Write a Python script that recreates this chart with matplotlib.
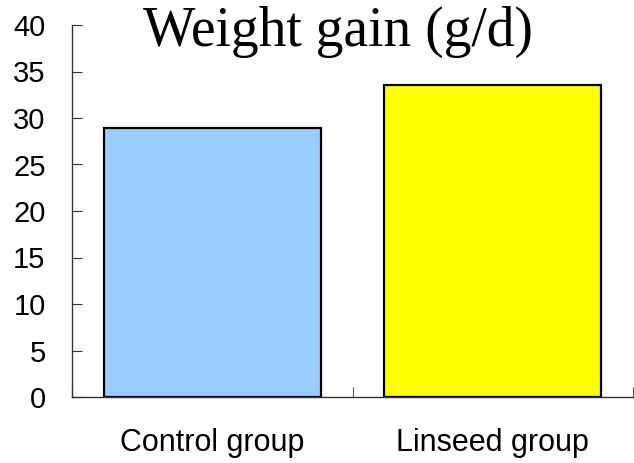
import matplotlib
matplotlib.use("Agg")
import matplotlib.pyplot as plt

categories = ["Control group", "Linseed group"]
values = [28.9, 33.6]
colors = ["#99CCFF", "#FFFF00"]
yticks = [0, 5, 10, 15, 20, 25, 30, 35, 40]
title = "Weight gain (g/d)"

fig = plt.figure(figsize=(6.34, 4.63), dpi=100)
ax = fig.add_axes([72/634, (463-397)/463, (633-72)/634, (397-25)/463])

x = list(range(len(categories)))
ax.bar(x, values, width=0.775, color=colors, edgecolor="black", linewidth=1.6)

ax.set_xlim(-0.5, len(categories) - 0.5)
ax.set_ylim(0, 40)
ax.set_yticks(yticks)
ax.set_yticklabels([str(t) for t in yticks], fontsize=21, family="Liberation Sans")

ax.set_xticks([i - 0.5 for i in range(len(categories) + 1)])
ax.set_xticklabels([])
ax.set_xticks(x, minor=True)
ax.set_xticklabels(categories, minor=True, fontsize=22, family="Liberation Sans")
ax.tick_params(axis="x", which="minor", length=0, pad=22)
ax.tick_params(axis="x", which="major", direction="in", length=7, color="#555555")
ax.tick_params(axis="y", direction="in", length=7, color="#333333", pad=19)

for s in ["top", "right"]:
    ax.spines[s].set_visible(False)
for s in ["left", "bottom"]:
    ax.spines[s].set_linewidth(1.0)
    ax.spines[s].set_color("#333333")

fig.text(338/634, 1 - 6/463, title, ha="center", va="top",
         fontsize=40, family="Liberation Serif")

fig.savefig("out.png", dpi=100)
